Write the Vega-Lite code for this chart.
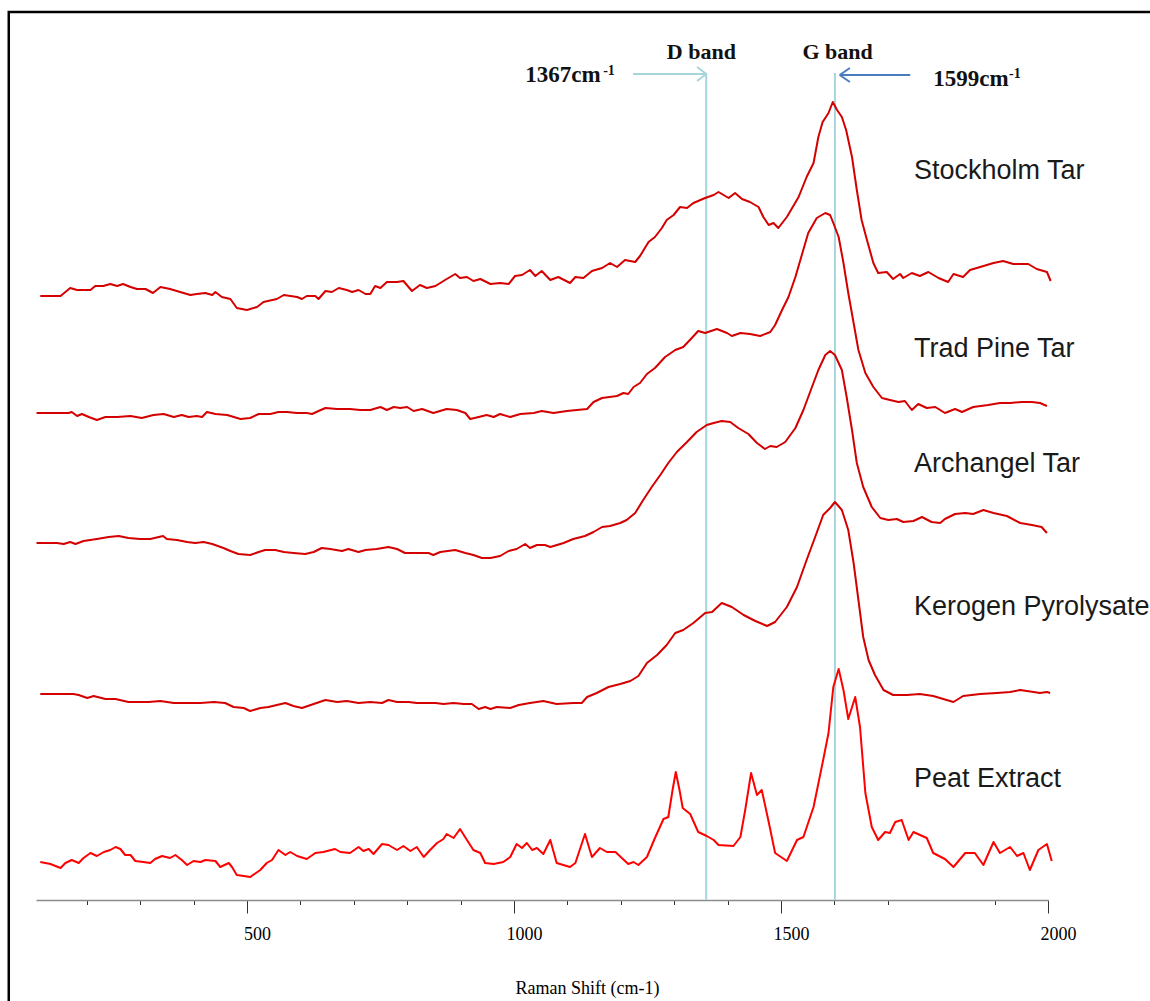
{
"$schema": "https://vega.github.io/schema/vega-lite/v6.json",
"width": 1012, "height": 888,
"autosize": {"type": "none"},
"padding": {"left": 36, "top": 12, "right": 102, "bottom": 101},
"background": "white",
"config": {"view": {"stroke": null}},
"datasets": {
"spectra": [
{"s":"ST","x":113,"y":604},{"s":"ST","x":151,"y":604},{"s":"ST","x":169,"y":612},{"s":"ST","x":182,"y":610},{"s":"ST","x":207,"y":610},{"s":"ST","x":216,"y":614},{"s":"ST","x":231,"y":614},{"s":"ST","x":244,"y":616},{"s":"ST","x":257,"y":614},{"s":"ST","x":268,"y":616},{"s":"ST","x":282,"y":613},{"s":"ST","x":294,"y":611},{"s":"ST","x":310,"y":611},{"s":"ST","x":324,"y":607},{"s":"ST","x":338,"y":613},{"s":"ST","x":356,"y":611},{"s":"ST","x":375,"y":608},{"s":"ST","x":394,"y":605},{"s":"ST","x":406,"y":606},{"s":"ST","x":422,"y":607},{"s":"ST","x":435,"y":605},{"s":"ST","x":441,"y":608},{"s":"ST","x":453,"y":603},{"s":"ST","x":469,"y":601},{"s":"ST","x":481,"y":592},{"s":"ST","x":500,"y":590},{"s":"ST","x":519,"y":593},{"s":"ST","x":531,"y":598},{"s":"ST","x":556,"y":601},{"s":"ST","x":569,"y":605},{"s":"ST","x":594,"y":603},{"s":"ST","x":603,"y":601},{"s":"ST","x":612,"y":604},{"s":"ST","x":628,"y":604},{"s":"ST","x":634,"y":601},{"s":"ST","x":647,"y":609},{"s":"ST","x":659,"y":608},{"s":"ST","x":672,"y":612},{"s":"ST","x":687,"y":610},{"s":"ST","x":697,"y":608},{"s":"ST","x":709,"y":610},{"s":"ST","x":722,"y":606},{"s":"ST","x":731,"y":606},{"s":"ST","x":740,"y":614},{"s":"ST","x":750,"y":612},{"s":"ST","x":762,"y":618},{"s":"ST","x":781,"y":618},{"s":"ST","x":793,"y":619},{"s":"ST","x":809,"y":609},{"s":"ST","x":824,"y":615},{"s":"ST","x":837,"y":612},{"s":"ST","x":853,"y":614},{"s":"ST","x":871,"y":620},{"s":"ST","x":890,"y":626},{"s":"ST","x":899,"y":622},{"s":"ST","x":912,"y":623},{"s":"ST","x":924,"y":619},{"s":"ST","x":937,"y":621},{"s":"ST","x":956,"y":616},{"s":"ST","x":974,"y":617},{"s":"ST","x":990,"y":616},{"s":"ST","x":1002,"y":624},{"s":"ST","x":1015,"y":625},{"s":"ST","x":1030,"y":630},{"s":"ST","x":1040,"y":624},{"s":"ST","x":1052,"y":629},{"s":"ST","x":1068,"y":620},{"s":"ST","x":1083,"y":623},{"s":"ST","x":1105,"y":617},{"s":"ST","x":1115,"y":623},{"s":"ST","x":1130,"y":622},{"s":"ST","x":1146,"y":629},{"s":"ST","x":1165,"y":632},{"s":"ST","x":1180,"y":637},{"s":"ST","x":1193,"y":633},{"s":"ST","x":1208,"y":640},{"s":"ST","x":1227,"y":638},{"s":"ST","x":1236,"y":644},{"s":"ST","x":1252,"y":658},{"s":"ST","x":1264,"y":663},{"s":"ST","x":1277,"y":672},{"s":"ST","x":1286,"y":680},{"s":"ST","x":1299,"y":685},{"s":"ST","x":1311,"y":693},{"s":"ST","x":1324,"y":692},{"s":"ST","x":1336,"y":697},{"s":"ST","x":1358,"y":702},{"s":"ST","x":1374,"y":705},{"s":"ST","x":1383,"y":708},{"s":"ST","x":1402,"y":702},{"s":"ST","x":1414,"y":707},{"s":"ST","x":1427,"y":701},{"s":"ST","x":1442,"y":698},{"s":"ST","x":1458,"y":693},{"s":"ST","x":1467,"y":683},{"s":"ST","x":1477,"y":675},{"s":"ST","x":1486,"y":677},{"s":"ST","x":1495,"y":672},{"s":"ST","x":1511,"y":683},{"s":"ST","x":1533,"y":703},{"s":"ST","x":1548,"y":723},{"s":"ST","x":1561,"y":737},{"s":"ST","x":1570,"y":763},{"s":"ST","x":1578,"y":778},{"s":"ST","x":1589,"y":787},{"s":"ST","x":1597,"y":798},{"s":"ST","x":1605,"y":790},{"s":"ST","x":1614,"y":783},{"s":"ST","x":1622,"y":770},{"s":"ST","x":1633,"y":743},{"s":"ST","x":1642,"y":710},{"s":"ST","x":1651,"y":680},{"s":"ST","x":1661,"y":660},{"s":"ST","x":1673,"y":637},{"s":"ST","x":1682,"y":627},{"s":"ST","x":1698,"y":628},{"s":"ST","x":1710,"y":621},{"s":"ST","x":1723,"y":626},{"s":"ST","x":1729,"y":622},{"s":"ST","x":1745,"y":627},{"s":"ST","x":1760,"y":624},{"s":"ST","x":1776,"y":628},{"s":"ST","x":1795,"y":622},{"s":"ST","x":1813,"y":618},{"s":"ST","x":1823,"y":626},{"s":"ST","x":1841,"y":623},{"s":"ST","x":1854,"y":630},{"s":"ST","x":1873,"y":633},{"s":"ST","x":1898,"y":637},{"s":"ST","x":1916,"y":639},{"s":"ST","x":1935,"y":636},{"s":"ST","x":1963,"y":636},{"s":"ST","x":1979,"y":631},{"s":"ST","x":1998,"y":628},{"s":"ST","x":2005,"y":619},
{"s":"TP","x":106,"y":487},{"s":"TP","x":166,"y":487},{"s":"TP","x":172,"y":488},{"s":"TP","x":182,"y":484},{"s":"TP","x":191,"y":486},{"s":"TP","x":204,"y":483},{"s":"TP","x":219,"y":480},{"s":"TP","x":235,"y":483},{"s":"TP","x":257,"y":483},{"s":"TP","x":282,"y":484},{"s":"TP","x":303,"y":482},{"s":"TP","x":325,"y":485},{"s":"TP","x":344,"y":486},{"s":"TP","x":363,"y":483},{"s":"TP","x":378,"y":485},{"s":"TP","x":391,"y":483},{"s":"TP","x":406,"y":484},{"s":"TP","x":416,"y":483},{"s":"TP","x":425,"y":488},{"s":"TP","x":441,"y":486},{"s":"TP","x":463,"y":485},{"s":"TP","x":488,"y":481},{"s":"TP","x":506,"y":482},{"s":"TP","x":522,"y":486},{"s":"TP","x":544,"y":486},{"s":"TP","x":559,"y":488},{"s":"TP","x":575,"y":488},{"s":"TP","x":594,"y":487},{"s":"TP","x":612,"y":487},{"s":"TP","x":622,"y":486},{"s":"TP","x":634,"y":489},{"s":"TP","x":647,"y":492},{"s":"TP","x":669,"y":491},{"s":"TP","x":693,"y":491},{"s":"TP","x":712,"y":490},{"s":"TP","x":731,"y":490},{"s":"TP","x":750,"y":493},{"s":"TP","x":762,"y":490},{"s":"TP","x":775,"y":493},{"s":"TP","x":787,"y":492},{"s":"TP","x":800,"y":493},{"s":"TP","x":812,"y":489},{"s":"TP","x":828,"y":491},{"s":"TP","x":849,"y":487},{"s":"TP","x":874,"y":491},{"s":"TP","x":893,"y":490},{"s":"TP","x":909,"y":487},{"s":"TP","x":918,"y":481},{"s":"TP","x":934,"y":483},{"s":"TP","x":949,"y":485},{"s":"TP","x":962,"y":483},{"s":"TP","x":974,"y":486},{"s":"TP","x":993,"y":483},{"s":"TP","x":1012,"y":486},{"s":"TP","x":1037,"y":487},{"s":"TP","x":1052,"y":489},{"s":"TP","x":1074,"y":487},{"s":"TP","x":1099,"y":489},{"s":"TP","x":1137,"y":491},{"s":"TP","x":1149,"y":498},{"s":"TP","x":1165,"y":502},{"s":"TP","x":1193,"y":504},{"s":"TP","x":1205,"y":507},{"s":"TP","x":1214,"y":506},{"s":"TP","x":1224,"y":513},{"s":"TP","x":1236,"y":517},{"s":"TP","x":1249,"y":526},{"s":"TP","x":1264,"y":532},{"s":"TP","x":1283,"y":543},{"s":"TP","x":1302,"y":550},{"s":"TP","x":1317,"y":553},{"s":"TP","x":1333,"y":562},{"s":"TP","x":1345,"y":569},{"s":"TP","x":1358,"y":567},{"s":"TP","x":1380,"y":571},{"s":"TP","x":1399,"y":567},{"s":"TP","x":1408,"y":564},{"s":"TP","x":1424,"y":567},{"s":"TP","x":1442,"y":566},{"s":"TP","x":1461,"y":564},{"s":"TP","x":1480,"y":568},{"s":"TP","x":1489,"y":575},{"s":"TP","x":1502,"y":590},{"s":"TP","x":1514,"y":603},{"s":"TP","x":1527,"y":623},{"s":"TP","x":1539,"y":645},{"s":"TP","x":1551,"y":667},{"s":"TP","x":1567,"y":682},{"s":"TP","x":1583,"y":687},{"s":"TP","x":1592,"y":685},{"s":"TP","x":1598,"y":677},{"s":"TP","x":1608,"y":663},{"s":"TP","x":1617,"y":637},{"s":"TP","x":1626,"y":607},{"s":"TP","x":1636,"y":577},{"s":"TP","x":1645,"y":550},{"s":"TP","x":1658,"y":527},{"s":"TP","x":1673,"y":513},{"s":"TP","x":1689,"y":502},{"s":"TP","x":1704,"y":500},{"s":"TP","x":1720,"y":498},{"s":"TP","x":1732,"y":499},{"s":"TP","x":1745,"y":490},{"s":"TP","x":1757,"y":496},{"s":"TP","x":1773,"y":492},{"s":"TP","x":1789,"y":493},{"s":"TP","x":1807,"y":487},{"s":"TP","x":1826,"y":491},{"s":"TP","x":1839,"y":488},{"s":"TP","x":1860,"y":493},{"s":"TP","x":1888,"y":495},{"s":"TP","x":1910,"y":497},{"s":"TP","x":1929,"y":497},{"s":"TP","x":1951,"y":498},{"s":"TP","x":1970,"y":498},{"s":"TP","x":1985,"y":497},{"s":"TP","x":1998,"y":494},
{"s":"AT","x":106,"y":357},{"s":"AT","x":144,"y":357},{"s":"AT","x":157,"y":356},{"s":"AT","x":169,"y":358},{"s":"AT","x":179,"y":356},{"s":"AT","x":194,"y":359},{"s":"AT","x":219,"y":361},{"s":"AT","x":241,"y":363},{"s":"AT","x":260,"y":364},{"s":"AT","x":278,"y":362},{"s":"AT","x":300,"y":361},{"s":"AT","x":319,"y":361},{"s":"AT","x":335,"y":363},{"s":"AT","x":343,"y":364},{"s":"AT","x":350,"y":361},{"s":"AT","x":369,"y":360},{"s":"AT","x":388,"y":358},{"s":"AT","x":403,"y":357},{"s":"AT","x":419,"y":358},{"s":"AT","x":435,"y":356},{"s":"AT","x":456,"y":352},{"s":"AT","x":469,"y":349},{"s":"AT","x":484,"y":346},{"s":"AT","x":506,"y":345},{"s":"AT","x":522,"y":348},{"s":"AT","x":534,"y":350},{"s":"AT","x":553,"y":350},{"s":"AT","x":569,"y":348},{"s":"AT","x":587,"y":347},{"s":"AT","x":609,"y":346},{"s":"AT","x":625,"y":348},{"s":"AT","x":640,"y":352},{"s":"AT","x":656,"y":351},{"s":"AT","x":678,"y":349},{"s":"AT","x":690,"y":351},{"s":"AT","x":709,"y":348},{"s":"AT","x":722,"y":350},{"s":"AT","x":743,"y":351},{"s":"AT","x":765,"y":353},{"s":"AT","x":781,"y":351},{"s":"AT","x":796,"y":347},{"s":"AT","x":818,"y":347},{"s":"AT","x":840,"y":347},{"s":"AT","x":849,"y":345},{"s":"AT","x":862,"y":348},{"s":"AT","x":890,"y":350},{"s":"AT","x":909,"y":347},{"s":"AT","x":924,"y":345},{"s":"AT","x":940,"y":342},{"s":"AT","x":956,"y":342},{"s":"AT","x":974,"y":344},{"s":"AT","x":990,"y":349},{"s":"AT","x":1005,"y":351},{"s":"AT","x":1021,"y":356},{"s":"AT","x":1030,"y":352},{"s":"AT","x":1043,"y":355},{"s":"AT","x":1058,"y":355},{"s":"AT","x":1068,"y":353},{"s":"AT","x":1093,"y":357},{"s":"AT","x":1111,"y":361},{"s":"AT","x":1133,"y":364},{"s":"AT","x":1149,"y":368},{"s":"AT","x":1165,"y":373},{"s":"AT","x":1180,"y":374},{"s":"AT","x":1199,"y":377},{"s":"AT","x":1211,"y":380},{"s":"AT","x":1227,"y":387},{"s":"AT","x":1242,"y":400},{"s":"AT","x":1258,"y":413},{"s":"AT","x":1274,"y":425},{"s":"AT","x":1289,"y":437},{"s":"AT","x":1305,"y":448},{"s":"AT","x":1324,"y":458},{"s":"AT","x":1342,"y":468},{"s":"AT","x":1361,"y":475},{"s":"AT","x":1374,"y":477},{"s":"AT","x":1389,"y":479},{"s":"AT","x":1405,"y":478},{"s":"AT","x":1420,"y":472},{"s":"AT","x":1439,"y":466},{"s":"AT","x":1455,"y":457},{"s":"AT","x":1470,"y":451},{"s":"AT","x":1480,"y":454},{"s":"AT","x":1492,"y":453},{"s":"AT","x":1508,"y":458},{"s":"AT","x":1527,"y":472},{"s":"AT","x":1542,"y":490},{"s":"AT","x":1558,"y":513},{"s":"AT","x":1570,"y":530},{"s":"AT","x":1583,"y":545},{"s":"AT","x":1592,"y":549},{"s":"AT","x":1601,"y":545},{"s":"AT","x":1614,"y":530},{"s":"AT","x":1623,"y":503},{"s":"AT","x":1633,"y":470},{"s":"AT","x":1642,"y":437},{"s":"AT","x":1654,"y":413},{"s":"AT","x":1670,"y":393},{"s":"AT","x":1686,"y":382},{"s":"AT","x":1701,"y":380},{"s":"AT","x":1717,"y":381},{"s":"AT","x":1729,"y":378},{"s":"AT","x":1748,"y":379},{"s":"AT","x":1764,"y":383},{"s":"AT","x":1782,"y":378},{"s":"AT","x":1798,"y":377},{"s":"AT","x":1807,"y":381},{"s":"AT","x":1826,"y":386},{"s":"AT","x":1845,"y":387},{"s":"AT","x":1860,"y":386},{"s":"AT","x":1879,"y":390},{"s":"AT","x":1898,"y":387},{"s":"AT","x":1923,"y":384},{"s":"AT","x":1948,"y":377},{"s":"AT","x":1970,"y":375},{"s":"AT","x":1988,"y":373},{"s":"AT","x":1998,"y":367},
{"s":"KP","x":113,"y":206},{"s":"KP","x":175,"y":206},{"s":"KP","x":185,"y":205},{"s":"KP","x":201,"y":202},{"s":"KP","x":213,"y":204},{"s":"KP","x":235,"y":201},{"s":"KP","x":254,"y":201},{"s":"KP","x":278,"y":198},{"s":"KP","x":300,"y":198},{"s":"KP","x":316,"y":198},{"s":"KP","x":338,"y":199},{"s":"KP","x":363,"y":197},{"s":"KP","x":388,"y":197},{"s":"KP","x":413,"y":197},{"s":"KP","x":438,"y":198},{"s":"KP","x":459,"y":197},{"s":"KP","x":475,"y":193},{"s":"KP","x":494,"y":192},{"s":"KP","x":506,"y":189},{"s":"KP","x":525,"y":192},{"s":"KP","x":540,"y":193},{"s":"KP","x":556,"y":195},{"s":"KP","x":572,"y":197},{"s":"KP","x":587,"y":194},{"s":"KP","x":603,"y":192},{"s":"KP","x":625,"y":196},{"s":"KP","x":647,"y":200},{"s":"KP","x":669,"y":198},{"s":"KP","x":687,"y":199},{"s":"KP","x":709,"y":197},{"s":"KP","x":731,"y":198},{"s":"KP","x":753,"y":197},{"s":"KP","x":765,"y":200},{"s":"KP","x":781,"y":198},{"s":"KP","x":803,"y":198},{"s":"KP","x":818,"y":197},{"s":"KP","x":840,"y":197},{"s":"KP","x":853,"y":197},{"s":"KP","x":868,"y":196},{"s":"KP","x":887,"y":197},{"s":"KP","x":906,"y":196},{"s":"KP","x":921,"y":196},{"s":"KP","x":934,"y":191},{"s":"KP","x":946,"y":193},{"s":"KP","x":956,"y":191},{"s":"KP","x":968,"y":193},{"s":"KP","x":993,"y":192},{"s":"KP","x":1009,"y":195},{"s":"KP","x":1030,"y":197},{"s":"KP","x":1055,"y":199},{"s":"KP","x":1080,"y":196},{"s":"KP","x":1111,"y":197},{"s":"KP","x":1127,"y":197},{"s":"KP","x":1137,"y":203},{"s":"KP","x":1155,"y":207},{"s":"KP","x":1177,"y":213},{"s":"KP","x":1199,"y":216},{"s":"KP","x":1218,"y":219},{"s":"KP","x":1233,"y":224},{"s":"KP","x":1249,"y":237},{"s":"KP","x":1268,"y":245},{"s":"KP","x":1286,"y":255},{"s":"KP","x":1302,"y":267},{"s":"KP","x":1317,"y":270},{"s":"KP","x":1336,"y":277},{"s":"KP","x":1358,"y":287},{"s":"KP","x":1371,"y":288},{"s":"KP","x":1389,"y":297},{"s":"KP","x":1408,"y":293},{"s":"KP","x":1430,"y":285},{"s":"KP","x":1452,"y":279},{"s":"KP","x":1474,"y":274},{"s":"KP","x":1489,"y":278},{"s":"KP","x":1511,"y":293},{"s":"KP","x":1530,"y":313},{"s":"KP","x":1548,"y":340},{"s":"KP","x":1564,"y":363},{"s":"KP","x":1579,"y":385},{"s":"KP","x":1592,"y":392},{"s":"KP","x":1601,"y":398},{"s":"KP","x":1614,"y":390},{"s":"KP","x":1626,"y":370},{"s":"KP","x":1636,"y":337},{"s":"KP","x":1645,"y":300},{"s":"KP","x":1654,"y":263},{"s":"KP","x":1664,"y":240},{"s":"KP","x":1676,"y":225},{"s":"KP","x":1692,"y":210},{"s":"KP","x":1710,"y":205},{"s":"KP","x":1736,"y":205},{"s":"KP","x":1760,"y":206},{"s":"KP","x":1785,"y":204},{"s":"KP","x":1804,"y":201},{"s":"KP","x":1823,"y":198},{"s":"KP","x":1841,"y":204},{"s":"KP","x":1873,"y":206},{"s":"KP","x":1904,"y":207},{"s":"KP","x":1929,"y":208},{"s":"KP","x":1948,"y":210},{"s":"KP","x":1973,"y":208},{"s":"KP","x":1985,"y":207},{"s":"KP","x":1998,"y":208},{"s":"KP","x":2004,"y":207},
{"s":"PE","x":113,"y":38},{"s":"PE","x":132,"y":36},{"s":"PE","x":151,"y":32},{"s":"PE","x":160,"y":37},{"s":"PE","x":172,"y":40},{"s":"PE","x":185,"y":37},{"s":"PE","x":194,"y":42},{"s":"PE","x":207,"y":47},{"s":"PE","x":219,"y":44},{"s":"PE","x":232,"y":48},{"s":"PE","x":244,"y":50},{"s":"PE","x":254,"y":53},{"s":"PE","x":263,"y":51},{"s":"PE","x":272,"y":45},{"s":"PE","x":282,"y":45},{"s":"PE","x":291,"y":39},{"s":"PE","x":306,"y":38},{"s":"PE","x":319,"y":37},{"s":"PE","x":328,"y":41},{"s":"PE","x":341,"y":44},{"s":"PE","x":356,"y":42},{"s":"PE","x":366,"y":45},{"s":"PE","x":378,"y":40},{"s":"PE","x":388,"y":35},{"s":"PE","x":400,"y":39},{"s":"PE","x":413,"y":38},{"s":"PE","x":422,"y":40},{"s":"PE","x":441,"y":39},{"s":"PE","x":450,"y":33},{"s":"PE","x":466,"y":37},{"s":"PE","x":472,"y":33},{"s":"PE","x":481,"y":25},{"s":"PE","x":494,"y":24},{"s":"PE","x":506,"y":23},{"s":"PE","x":525,"y":30},{"s":"PE","x":537,"y":37},{"s":"PE","x":547,"y":40},{"s":"PE","x":559,"y":50},{"s":"PE","x":572,"y":45},{"s":"PE","x":581,"y":48},{"s":"PE","x":594,"y":44},{"s":"PE","x":612,"y":41},{"s":"PE","x":628,"y":47},{"s":"PE","x":643,"y":48},{"s":"PE","x":665,"y":51},{"s":"PE","x":675,"y":48},{"s":"PE","x":693,"y":47},{"s":"PE","x":709,"y":53},{"s":"PE","x":718,"y":49},{"s":"PE","x":728,"y":51},{"s":"PE","x":737,"y":46},{"s":"PE","x":753,"y":56},{"s":"PE","x":765,"y":55},{"s":"PE","x":781,"y":50},{"s":"PE","x":793,"y":54},{"s":"PE","x":806,"y":49},{"s":"PE","x":818,"y":53},{"s":"PE","x":831,"y":43},{"s":"PE","x":843,"y":50},{"s":"PE","x":856,"y":57},{"s":"PE","x":868,"y":61},{"s":"PE","x":874,"y":66},{"s":"PE","x":887,"y":62},{"s":"PE","x":899,"y":71},{"s":"PE","x":912,"y":60},{"s":"PE","x":924,"y":50},{"s":"PE","x":937,"y":47},{"s":"PE","x":946,"y":37},{"s":"PE","x":962,"y":36},{"s":"PE","x":980,"y":38},{"s":"PE","x":993,"y":43},{"s":"PE","x":1005,"y":56},{"s":"PE","x":1015,"y":52},{"s":"PE","x":1024,"y":57},{"s":"PE","x":1034,"y":50},{"s":"PE","x":1043,"y":52},{"s":"PE","x":1055,"y":46},{"s":"PE","x":1068,"y":60},{"s":"PE","x":1080,"y":37},{"s":"PE","x":1105,"y":33},{"s":"PE","x":1115,"y":37},{"s":"PE","x":1133,"y":66},{"s":"PE","x":1146,"y":43},{"s":"PE","x":1161,"y":52},{"s":"PE","x":1174,"y":48},{"s":"PE","x":1190,"y":48},{"s":"PE","x":1214,"y":36},{"s":"PE","x":1224,"y":38},{"s":"PE","x":1233,"y":35},{"s":"PE","x":1249,"y":43},{"s":"PE","x":1264,"y":62},{"s":"PE","x":1280,"y":81},{"s":"PE","x":1289,"y":83},{"s":"PE","x":1297,"y":110},{"s":"PE","x":1303,"y":128},{"s":"PE","x":1310,"y":110},{"s":"PE","x":1316,"y":92},{"s":"PE","x":1330,"y":86},{"s":"PE","x":1345,"y":68},{"s":"PE","x":1361,"y":64},{"s":"PE","x":1374,"y":60},{"s":"PE","x":1383,"y":55},{"s":"PE","x":1411,"y":54},{"s":"PE","x":1424,"y":63},{"s":"PE","x":1433,"y":90},{"s":"PE","x":1444,"y":127},{"s":"PE","x":1455,"y":105},{"s":"PE","x":1464,"y":110},{"s":"PE","x":1477,"y":78},{"s":"PE","x":1489,"y":47},{"s":"PE","x":1511,"y":39},{"s":"PE","x":1530,"y":60},{"s":"PE","x":1542,"y":63},{"s":"PE","x":1561,"y":93},{"s":"PE","x":1579,"y":140},{"s":"PE","x":1589,"y":167},{"s":"PE","x":1598,"y":213},{"s":"PE","x":1608,"y":231},{"s":"PE","x":1617,"y":210},{"s":"PE","x":1626,"y":181},{"s":"PE","x":1639,"y":203},{"s":"PE","x":1648,"y":173},{"s":"PE","x":1658,"y":107},{"s":"PE","x":1670,"y":73},{"s":"PE","x":1682,"y":60},{"s":"PE","x":1695,"y":68},{"s":"PE","x":1704,"y":67},{"s":"PE","x":1714,"y":78},{"s":"PE","x":1726,"y":80},{"s":"PE","x":1739,"y":60},{"s":"PE","x":1748,"y":68},{"s":"PE","x":1773,"y":62},{"s":"PE","x":1785,"y":47},{"s":"PE","x":1807,"y":41},{"s":"PE","x":1823,"y":33},{"s":"PE","x":1845,"y":47},{"s":"PE","x":1863,"y":47},{"s":"PE","x":1879,"y":35},{"s":"PE","x":1898,"y":58},{"s":"PE","x":1910,"y":47},{"s":"PE","x":1929,"y":53},{"s":"PE","x":1942,"y":44},{"s":"PE","x":1954,"y":47},{"s":"PE","x":1966,"y":30},{"s":"PE","x":1982,"y":50},{"s":"PE","x":1998,"y":56},{"s":"PE","x":2007,"y":39}
]
},
"layer": [
{
"data": {"values": [{"x1": 54, "x2": 2400, "y1": 888, "y2": -300}]},
"mark": {"type": "rect", "filled": false, "stroke": "#000000", "strokeWidth": 2.5},
"encoding": {
"x": {"field": "x1", "type": "quantitative", "scale": {"domain": [105, 2000], "nice": false, "zero": false},
"axis": {
"values": [200, 300, 400, 500, 600, 700, 800, 900, 1000, 1100, 1200, 1300, 1400, 1500, 1600, 1700, 1900, 2000],
"format": "d",
"labelExpr": "datum.value % 500 === 0 ? datum.label : ''",
"tickSize": {"condition": {"test": "datum.value % 500 === 0", "value": 13}, "value": 4.5},
"tickColor": "#333333", "tickWidth": 1,
"domainColor": "#8c8c8c", "domainWidth": 1.5,
"labelFont": "Liberation Serif", "labelFontSize": 18, "labelColor": "#000000",
"labelOffset": 10, "labelPadding": 12, "labelOverlap": false, "labelFlush": false,
"grid": false,
"title": "Raman Shift (cm-1)", "titleFont": "Liberation Serif", "titleFontSize": 18,
"titleFontWeight": "normal", "titleColor": "#000000",
"titleX": 551, "titleY": 93, "titleBaseline": "alphabetic"
}},
"x2": {"field": "x2"},
"y": {"field": "y1", "type": "quantitative", "axis": null, "scale": {"domain": [0, 888], "nice": false, "zero": false}},
"y2": {"field": "y2"}
}
},
{
"data": {"values": [{"x": 1360, "y": 827, "y2": 0}, {"x": 1601, "y": 827, "y2": 0}]},
"mark": {"type": "rule", "color": "#a6d5db", "strokeWidth": 2},
"encoding": {
"x": {"field": "x", "type": "quantitative"},
"y": {"field": "y", "type": "quantitative", "axis": null},
"y2": {"field": "y2"}
}
},
{
"data": {"values": [{"x": 1223, "x2": 1360, "y": 826, "y2": 826}, {"x": 1343, "x2": 1360, "y": 833, "y2": 826}, {"x": 1343, "x2": 1360, "y": 819, "y2": 826}]},
"mark": {"type": "rule", "color": "#a6d5db", "strokeWidth": 2},
"encoding": {
"x": {"field": "x", "type": "quantitative"},
"x2": {"field": "x2"},
"y": {"field": "y", "type": "quantitative", "axis": null},
"y2": {"field": "y2"}
}
},
{
"data": {"values": [{"x": 1610, "x2": 1742, "y": 825, "y2": 825}, {"x": 1610, "x2": 1629, "y": 825, "y2": 832}, {"x": 1610, "x2": 1629, "y": 825, "y2": 818}]},
"mark": {"type": "rule", "color": "#4a7cc0", "strokeWidth": 2},
"encoding": {
"x": {"field": "x", "type": "quantitative"},
"x2": {"field": "x2"},
"y": {"field": "y", "type": "quantitative", "axis": null},
"y2": {"field": "y2"}
}
},
{
"data": {"name": "spectra"},
"mark": {"type": "line", "strokeWidth": 2, "strokeJoin": "round"},
"encoding": {
"x": {"field": "x", "type": "quantitative"},
"y": {"field": "y", "type": "quantitative", "axis": null},
"color": {"field": "s", "type": "nominal", "legend": null,
"scale": {"domain": ["ST", "TP", "AT", "KP", "PE"], "range": ["#d40000", "#d40000", "#d40000", "#d40000", "#ff0000"]}}
}
},
{
"data": {"values": [
{"label": "Stockholm Tar", "x": 1749, "y": 721},
{"label": "Trad Pine Tar", "x": 1749, "y": 543},
{"label": "Archangel Tar", "x": 1749, "y": 428},
{"label": "Kerogen Pyrolysate", "x": 1749, "y": 285},
{"label": "Peat Extract", "x": 1749, "y": 113}
]},
"mark": {"type": "text", "align": "left", "baseline": "alphabetic", "font": "Liberation Sans", "fontSize": 27, "color": "#1a1a1a"},
"encoding": {
"x": {"field": "x", "type": "quantitative"},
"y": {"field": "y", "type": "quantitative", "axis": null},
"text": {"field": "label"}
}
},
{
"data": {"values": [{"t": "D band", "x": 1351, "y": 841}, {"t": "G band", "x": 1606, "y": 841}]},
"mark": {"type": "text", "align": "center", "baseline": "alphabetic", "font": "Liberation Serif", "fontWeight": "bold", "fontSize": 22, "color": "#111111"},
"encoding": {
"x": {"field": "x", "type": "quantitative"},
"y": {"field": "y", "type": "quantitative", "axis": null},
"text": {"field": "t"}
}
},
{
"data": {"values": [{"t": "1367cm", "x": 1021, "y": 818}, {"t": "1599cm", "x": 1785, "y": 814}]},
"mark": {"type": "text", "align": "left", "baseline": "alphabetic", "font": "Liberation Serif", "fontWeight": "bold", "fontSize": 23, "color": "#111111"},
"encoding": {
"x": {"field": "x", "type": "quantitative"},
"y": {"field": "y", "type": "quantitative", "axis": null},
"text": {"field": "t"}
}
},
{
"data": {"values": [{"t": "-1", "x": 1167, "y": 825}, {"t": "-1", "x": 1927, "y": 822}]},
"mark": {"type": "text", "align": "left", "baseline": "alphabetic", "font": "Liberation Serif", "fontWeight": "bold", "fontSize": 14, "color": "#111111"},
"encoding": {
"x": {"field": "x", "type": "quantitative"},
"y": {"field": "y", "type": "quantitative", "axis": null},
"text": {"field": "t"}
}
}
]
}
